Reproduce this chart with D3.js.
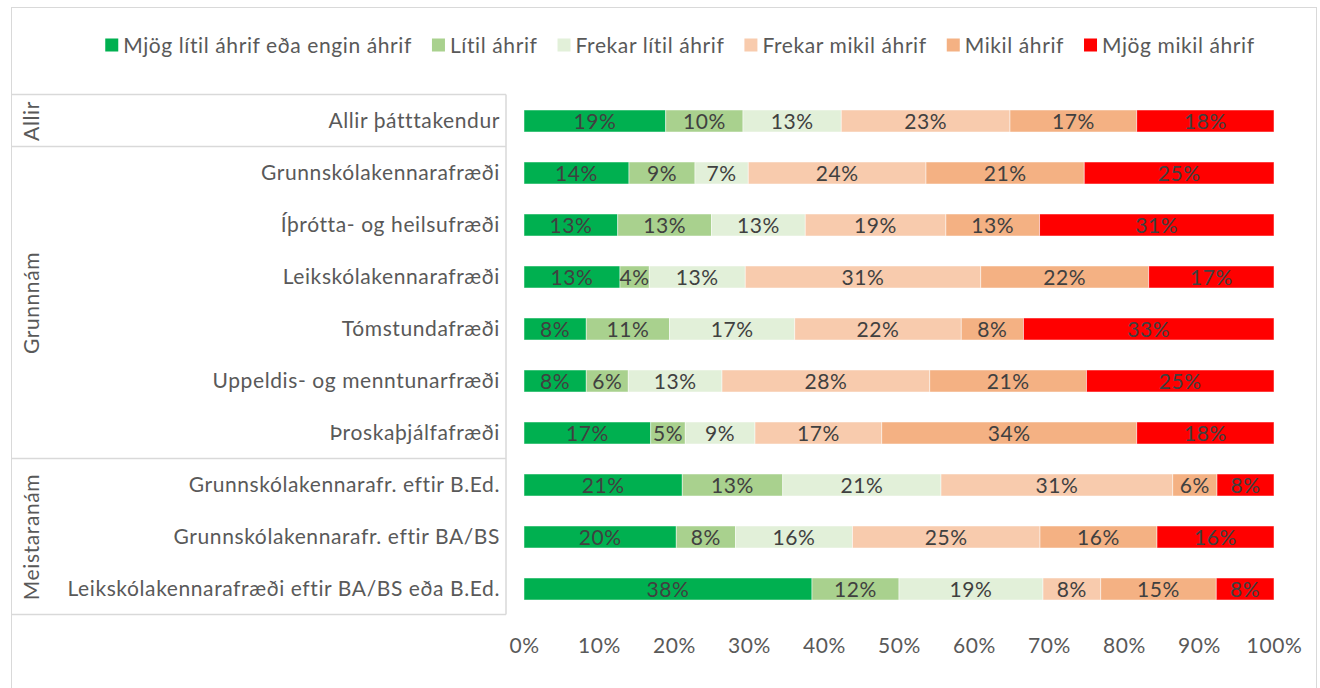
<!DOCTYPE html>
<html>
<head>
<meta charset="utf-8">
<script src="https://cdn.jsdelivr.net/npm/d3@7"></script>
<style>
  body { margin: 0; background: #fff; }
  svg { display: block; font-family: Lato, "Open Sans", sans-serif; }
  text { letter-spacing: 0.6px; }
</style>
</head>
<body>
<svg id="chart" width="1320" height="688"></svg>
<script>
// categories (top to bottom) and their groups
const categories = [
    "Allir þátttakendur",
    "Grunnskólakennarafræði",
    "Íþrótta- og heilsufræði",
    "Leikskólakennarafræði",
    "Tómstundafræði",
    "Uppeldis- og menntunarfræði",
    "Þroskaþjálfafræði",
    "Grunnskólakennarafr. eftir B.Ed.",
    "Grunnskólakennarafr. eftir BA/BS",
    "Leikskólakennarafræði eftir BA/BS eða B.Ed."
];
const groups = [
    { name: "Allir", from: 0, to: 0 },
    { name: "Grunnnám", from: 1, to: 6 },
    { name: "Meistaranám", from: 7, to: 9 }
];

const seriesNames = [
    "Mjög lítil áhrif eða engin áhrif",
    "Lítil áhrif",
    "Frekar lítil áhrif",
    "Frekar mikil áhrif",
    "Mikil áhrif",
    "Mjög mikil áhrif"
];
const seriesColors = ["#00B050", "#A9D18E", "#E2F0D9", "#F8CBAD", "#F4B183", "#FF0000"];

// percent values per series, in category order
const mjogLitil   = [18.9, 14.0, 12.5, 12.8,  8.3,  8.3, 16.9, 21.1, 20.3, 38.4];
const litil       = [10.3,  8.8, 12.5,  3.9, 11.1,  5.6,  4.6, 13.4,  7.9, 11.6];
const frekarLitil = [13.1,  7.1, 12.5, 12.8, 16.7, 12.5,  9.3, 21.1, 15.6, 19.2];
const frekarMikil = [22.5, 23.7, 18.75, 31.4, 22.2, 27.7, 16.9, 30.9, 25.0,  7.7];
const mikil       = [16.9, 21.1, 12.5, 22.4,  8.3, 20.9, 34.0,  5.9, 15.6, 15.4];
const mjogMikil   = [18.3, 25.3, 31.25, 16.7, 33.4, 25.0, 18.3,  7.6, 15.6,  7.7];

const xTicks = [0, 10, 20, 30, 40, 50, 60, 70, 80, 90, 100];

const seriesValues = [mjogLitil, litil, frekarLitil, frekarMikil, mikil, mjogMikil];

const svg = d3.select("#chart");
const gridColor = "#D9D9D9";
const fontSize = 21;

// outer chart border
svg.append("rect")
    .attr("x", 11.5).attr("y", 7.5)
    .attr("width", 1305).attr("height", 700)
    .attr("fill", "none").attr("stroke", gridColor);

const x = d3.scaleLinear().domain([0, 100]).range([524, 1274]);
const y = d3.scaleBand().domain(categories).range([95, 615]).paddingInner(0.577).paddingOuter(0.2885);

// stacked table built from the series arrays
const table = categories.map((c, i) => {
    const row = { cat: c };
    seriesNames.forEach((s, j) => row[s] = seriesValues[j][i]);
    return row;
});
const stacked = d3.stack().keys(seriesNames)(table);

const layers = svg.append("g").selectAll("g")
    .data(stacked)
    .join("g")
    .attr("fill", (d, i) => seriesColors[i]);

layers.selectAll("rect")
    .data(d => d)
    .join("rect")
    .attr("x", d => x(d[0]))
    .attr("y", d => y(d.data.cat))
    .attr("width", d => x(d[1]) - x(d[0]))
    .attr("height", y.bandwidth())
    .attr("stroke", "#fff")
    .attr("stroke-opacity", 0.6)
    .attr("stroke-width", 0.8);

layers.selectAll("text")
    .data(d => d.map(p => ({ p, key: d.key })))
    .join("text")
    .attr("x", d => (x(d.p[0]) + x(d.p[1])) / 2)
    .attr("y", d => y(d.p.data.cat) + y.bandwidth() / 2)
    .attr("dy", "0.36em")
    .attr("text-anchor", "middle")
    .attr("fill", "#404040")
    .attr("font-size", fontSize)
    .text(d => Math.round(d.p.data[d.key]) + "%");

// x axis labels
const xAxis = svg.append("g")
    .attr("transform", "translate(0,645)")
    .call(d3.axisBottom(x).tickValues(xTicks).tickFormat(d => d + "%").tickSize(0));
xAxis.select(".domain").remove();
xAxis.selectAll("text")
    .attr("dy", "0.36em").attr("y", 0)
    .attr("fill", "#595959")
    .attr("font-size", fontSize)
    .attr("font-family", "Lato, sans-serif");

// category labels
const yAxis = svg.append("g")
    .attr("transform", "translate(506,0)")
    .call(d3.axisLeft(y).tickSize(0).tickPadding(6));
yAxis.select(".domain").remove();
yAxis.selectAll("text")
    .attr("fill", "#595959")
    .attr("font-size", fontSize)
    .attr("font-family", "Lato, sans-serif");

// multi-level category box
const step = y.step();
const top0 = y.range()[0];
const box = svg.append("g").attr("stroke", gridColor).attr("stroke-width", 1.5).attr("fill", "none");
const splits = [top0].concat(groups.map(g => top0 + (g.to + 1) * step));
box.selectAll("line.h")
    .data(splits)
    .join("line")
    .attr("x1", 11).attr("x2", 506)
    .attr("y1", d => Math.round(d) - 0.5).attr("y2", d => Math.round(d) - 0.5);
box.append("line")
    .attr("x1", 506).attr("x2", 506)
    .attr("y1", splits[0] - 0.5).attr("y2", splits[splits.length - 1] - 0.5);

svg.append("g").selectAll("text")
    .data(groups)
    .join("text")
    .attr("transform", g => `translate(39,${top0 + (g.from + g.to + 1) / 2 * step}) rotate(-90)`)
    .attr("text-anchor", "middle")
    .attr("fill", "#595959")
    .attr("font-size", fontSize)
    .text(g => g.name);

// legend
const legend = svg.append("g");
const items = legend.selectAll("g")
    .data(seriesNames)
    .join("g");
items.append("rect")
    .attr("width", 13).attr("height", 13)
    .attr("y", -6.5)
    .attr("fill", (d, i) => seriesColors[i]);
items.append("text")
    .attr("x", 18)
    .attr("dy", "0.36em")
    .attr("fill", "#595959")
    .attr("font-size", fontSize)
    .text(d => d);
const gap = 20;
let lx = 0;
items.each(function () {
    const w = this.getBBox().width;
    d3.select(this).attr("data-x", lx);
    lx += w + gap;
});
const totalW = lx - gap;
const startX = 680 - totalW / 2;
items.attr("transform", function () {
    return `translate(${startX + (+this.getAttribute("data-x"))},45)`;
});
</script>
</body>
</html>
